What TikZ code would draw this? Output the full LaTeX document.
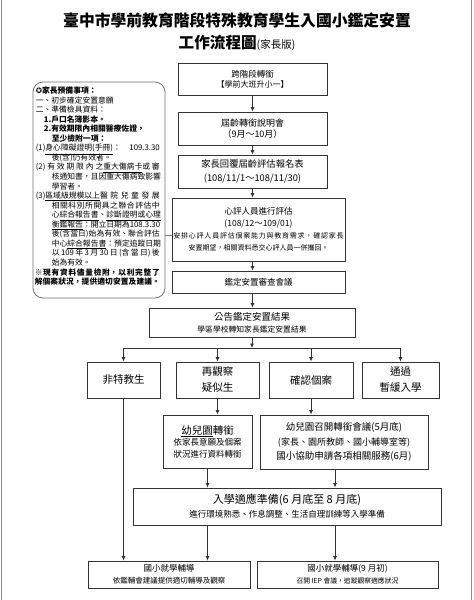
\documentclass[tikz,border=0pt]{standalone}
\usepackage{fontspec}
\setmainfont{Noto Sans CJK TC}
\newfontfamily\symf{DejaVu Sans}
\newfontfamily\spacedf{Noto Sans CJK TC}[LetterSpace=11]
\usetikzlibrary{arrows.meta}
\newcommand\fsz[1]{\fontsize{#1}{#1}\selectfont}
\newcommand\ind[1]{\hspace*{#1pt}}
\newcommand\lnl[1]{#1\hfill\null\par}
\newcommand\lnj[1]{#1\par}
\begin{document}
\begin{tikzpicture}[x=1pt,y=-1pt,
  box/.style={draw=black!80, line width=0.9pt, inner sep=0pt, align=center, text=black},
  arr/.style={draw=black!80, line width=0.8pt, -{Latex[length=4.5pt,width=4pt]}},
  ln/.style={draw=black!80, line width=0.8pt},
  notebox/.style={draw=black!55, line width=0.8pt, rounded corners=10pt, inner sep=0pt},
  notec/.style={draw=black!50, line width=0.6pt},
  edge/.style={draw=black!45, line width=0.8pt}]
\fill[white] (0,0) rectangle (474,600);
\useasboundingbox (0,0) rectangle (474,600);
% page edges
\draw[edge] (1.5,0) -- (1.5,600);
\draw[edge] (471.5,0) -- (471.5,600);
% title
\node[inner sep=0pt, font=\fontsize{15.8}{18}\selectfont\bfseries] (t1) at (237,20) {臺中市學前教育階段特殊教育學生入國小鑑定安置};
\node[inner sep=0pt, font=\fontsize{15.6}{18}\selectfont] (t2) at (237,43) {\textbf{工作流程圖}{\fsz{10.5}(家長版)}};
% left note
\node[notebox, minimum width=132pt, minimum height=216pt] (note) at (99,190) {};
\node[inner sep=0pt, anchor=north west] (notetext) at ([xshift=2pt,yshift=-5pt]note.north west) {\vbox{%
\XeTeXlinebreaklocale "zh"\XeTeXlinebreakskip=0pt plus 3pt\XeTeXlinebreakpenalty=10000
\hsize=125pt \parindent=0pt \tolerance=10000 \hbadness=10000 \hfuzz=20pt
\fontsize{7.8}{9.55}\selectfont \baselineskip=9.55pt \lineskiplimit=-20pt \lineskip=0pt
\rightskip=0pt \parfillskip=0pt
\lnl{\ind{1}{\symf\fsz{7.5}✪}{\bfseries 家長預備事項：}}
\lnl{\ind{1}一、初步確定安置意願}
\lnl{\ind{1}二、準備檢具資料：}
\lnl{\ind{9}{\bfseries 1.戶口名簿影本。}}
\lnl{\ind{9}{\bfseries 2.有效期限內相關醫療佐證，}}
\lnl{\ind{17}{\bfseries 至少檢附一項：}}
\lnj{\ind{1}(1)\underline{身心障礙證明(手冊)}：109.3.30}
\lnl{\ind{17}後(含)仍有效者。}
\lnj{\ind{1}(2)有效期限內之\underline{重大傷病卡}或審}
\lnj{\ind{17}核通知書，且因重大傷病致影響}
\lnl{\ind{17}學習者。}
\lnj{\ind{1}(3)\underline{區域級規模以上}醫院兒童發展}
\lnj{\ind{17}相關科別所開具之聯合評估中}
\lnj{\ind{17}心\underline{綜合報告書}、\underline{診斷證明或心理}}
\lnj{\ind{17}\underline{衡鑑報告}：開立日期為108.3.30}
\lnj{\ind{17}後(含當日)始為有效、聯合評估}
\lnj{\ind{17}中心\underline{綜合報告書}：預定追蹤日期}
\lnj{\ind{17}以109年3月30日(含當日)後}
\lnl{\ind{17}始為有效。}
\lnj{{\bfseries\fsz{7.7}※現有資料儘量檢附，以利完整了}}
\lnj{{\bfseries\fsz{7.7}解個案狀況，提供適切安置及建議。}}}};
% main column
\node[box, minimum width=149pt, minimum height=32pt, font=\fontsize{8.5}{10}\selectfont] (b1) at (252.5,79) {跨階段轉銜\\{\fsz{8}【學前大班升小一】}};
\node[box, minimum width=149pt, minimum height=33pt, font=\fontsize{9}{11.5}\selectfont] (b2) at (252.5,128.5) {屆齡轉銜說明會\\（9月～10月）};
\node[box, minimum width=149pt, minimum height=33pt, font=\fontsize{9.3}{13.5}\selectfont] (b3) at (252.5,171.5) {家長回覆屆齡評估報名表\\(108/11/1～108/11/30)};
\node[box, minimum width=173pt, minimum height=63pt, font=\fontsize{8.5}{12}\selectfont] (b4) at (258.5,229.5) {心評人員進行評估\\(108/12～109/01)\\{\spacedf\fsz{7}安排心評人員評估個案能力與教育需求，確認家長}\\{\fsz{7}安置期望，相關資料悉交心評人員一併攜回。}};
\node[box, minimum width=173pt, minimum height=22pt, font=\fontsize{8.5}{10}\selectfont] (b5) at (258.5,282) {鑑定安置審查會議};
\node[box, minimum width=206pt, minimum height=29pt, font=\fontsize{9.5}{12}\selectfont] (b6) at (252,322.5) {公告鑑定安置結果\\{\fsz{7.8}學區學校轉知家長鑑定安置結果}};
% four outcomes
\node[box, minimum width=73pt, minimum height=36pt, font=\fontsize{10.5}{16}\selectfont] (c1) at (123.5,380) {非特教生};
\node[box, minimum width=83pt, minimum height=36pt, font=\fontsize{10.5}{16}\selectfont] (c2) at (217.5,380) {再觀察\\疑似生};
\node[box, minimum width=84pt, minimum height=36pt, font=\fontsize{10.5}{16}\selectfont] (c3) at (311,380) {確認個案};
\node[box, minimum width=77pt, minimum height=36pt, font=\fontsize{10.5}{16}\selectfont] (c4) at (400.5,380) {通過\\暫緩入學};
% second level
\node[box, minimum width=89pt, minimum height=53pt, font=\fontsize{8.5}{11.5}\selectfont] (d1) at (207.5,441.5) {{\fsz{10.5}\underline{幼兒園}轉銜}\\依家長意願及個案\\狀況進行資料轉銜};
\node[box, minimum width=168pt, minimum height=54pt, font=\fontsize{9.5}{14.5}\selectfont] (d2) at (344,442) {幼兒園召開轉銜會議(5月底)\\{\fsz{9}(家長、園所教師、國小輔導室等)}\\國小協助申請各項相關服務(6月)};
\node[box, minimum width=308pt, minimum height=37pt, font=\fontsize{11}{14}\selectfont] (e) at (287,506.5) {入學適應準備(6 月底至 8 月底)\\{\fsz{8.5}進行環境熟悉、作息調整、生活自理訓練等入學準備}};
\node[box, minimum width=162pt, minimum height=27pt, font=\fontsize{8.5}{12}\selectfont] (f1) at (169,574.5) {國小就學輔導\\{\fsz{7.5}依鑑輔會建議提供適切輔導及觀察}};
\node[box, minimum width=181pt, minimum height=27pt, font=\fontsize{8.5}{12}\selectfont] (f2) at (347.5,574.5) {國小就學輔導(9 月初)\\{\fsz{6.8}召開 IEP 會議，追蹤觀察適應狀況}};
% connectors main column
\draw[arr] (b1.south) -- (b2.north);
\draw[arr] (b2.south) -- (b3.north);
\draw[arr] (b3.south) -- (b3.south |- b4.north);
\draw[arr] (b3.south |- b4.south) -- (b3.south |- b5.north);
\draw[arr] (b3.south |- b5.south) -- (b3.south |- b6.north);
\coordinate (br) at (252,348);
\draw[arr] (b6.south) -- (br);
\draw[ln] (c1.north |- br) -- (c4.north |- br);
\draw[arr] (c1.north |- br) -- (c1.north);
\draw[arr] (c2.north |- br) -- (c2.north);
\draw[arr] (c3.north |- br) -- (c3.north);
\draw[arr] (c4.north |- br) -- (c4.north);
% note connector
\draw[notec] ([yshift=-5.5pt]b4.west) -- ([yshift=-5.5pt]b4.west -| note.east);
% lower connectors
\draw[arr] (c2.south) -- (c2.south |- d1.north);
\draw[arr] (c3.south) -- (c3.south |- d2.north);
\draw[arr] (d1.south) -- (d1.south |- e.north);
\draw[arr] ([xshift=-9pt]d2.south) -- ([xshift=-9pt]d2.south |- e.north);
\draw[arr] (d1.south |- e.south) -- (d1.south |- f1.north);
\draw[arr] ([xshift=-9pt]d2.south |- e.south) -- ([xshift=-9pt]d2.south |- f2.north);
\draw[arr] (c1.south) -- (c1.south |- f1.north);
\end{tikzpicture}
\end{document}
